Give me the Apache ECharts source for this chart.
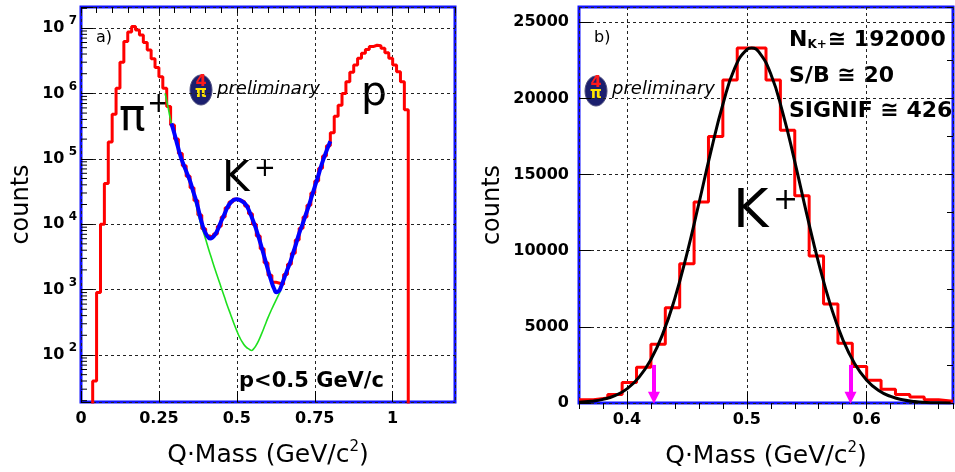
<!DOCTYPE html>
<html><head><meta charset="utf-8">
<script src="https://cdn.jsdelivr.net/npm/echarts@6/dist/echarts.min.js"></script>
<style>html,body{margin:0;padding:0;background:#fff}#c{width:955px;height:472px}</style>
</head><body><div id="c"></div>
<script>
// ---------- Panel a) : log-scale Q·Mass spectrum ----------
const aBinStart = 0.0375;
const aBinWidth = 0.0125;
const aCounts = [40, 900, 10000, 42000, 180000, 480000, 1200000, 3000000, 6200000, 8700000,
  10500000, 9300000, 7800000, 6000000, 4600000, 3400000, 2500000, 1800000, 1200000, 630000,
  330000, 200000, 120000, 78000, 54000, 36000, 23000, 13800, 8500, 6600,
  6300, 7100, 9300, 12900, 17800, 21900, 24000, 23400, 21900, 19000,
  14500, 10000, 6600, 4200, 2570, 1650, 1300, 1250, 1200, 1700,
  2450, 3600, 5750, 8700, 12900, 19500, 30000, 45700, 72000, 110000,
  158000, 250000, 446000, 660000, 1000000, 1510000, 2100000, 2730000, 3450000, 4100000,
  4700000, 5200000, 5450000, 5350000, 4900000, 4200000, 3450000, 2730000, 2150000, 1510000, 560000];
const aFitX = [0.29, 0.30, 0.31, 0.32, 0.33, 0.34, 0.35, 0.36, 0.37, 0.38, 0.39, 0.40, 0.41, 0.415, 0.42,
  0.43, 0.44, 0.45, 0.46, 0.47, 0.48, 0.49, 0.50, 0.51, 0.52, 0.53, 0.54, 0.55, 0.56, 0.57, 0.58, 0.59,
  0.60, 0.61, 0.62, 0.627, 0.635, 0.64, 0.65, 0.66, 0.67, 0.68, 0.69, 0.70, 0.71, 0.72, 0.73, 0.74,
  0.75, 0.76, 0.77, 0.78, 0.79, 0.80];
const aFitY = [347000, 240000, 158000, 107000, 79400, 60300, 45700, 31600, 22400, 14500, 9550, 7240, 6170, 6030, 6170,
  6920, 8510, 11200, 14100, 18200, 21400, 23400, 24000, 23400, 21900, 19500, 15800, 12000, 8910, 6310, 4370, 2950,
  2000, 1380, 1020, 912, 955, 1050, 1410, 1900, 2510, 3550, 5010, 7240, 9770, 13500, 18600, 26300,
  37200, 52500, 75900, 105000, 141000, 186000];
const aBgX = [0.27, 0.28, 0.29, 0.30, 0.31, 0.32, 0.33, 0.34, 0.35, 0.36, 0.37, 0.38, 0.39, 0.40, 0.41, 0.42,
  0.43, 0.44, 0.45, 0.46, 0.47, 0.48, 0.49, 0.50, 0.51, 0.52, 0.53, 0.54, 0.547, 0.555, 0.56, 0.57, 0.58,
  0.59, 0.60, 0.61, 0.62, 0.63, 0.64];
const aBgY = [1000000, 589000, 347000, 234000, 155000, 105000, 75900, 56200, 41700, 28200, 19100, 12000, 8320, 5890, 4070, 2880,
  2040, 1480, 1070, 776, 562, 417, 309, 234, 182, 151, 132, 122, 117, 126, 135, 166, 214,
  282, 372, 479, 603, 759, 955];
const aXTicks = [0, 0.25, 0.5, 0.75, 1];
const aYMin = 19.1, aYMax = 2.095e7;

// ---------- Panel b) : K+ peak, linear scale ----------
const bBinStart = 0.36;
const bBinWidth = 0.012;
const bCounts = [220, 330, 550, 1350, 2350, 3850, 6250, 9150, 13200, 17500, 21200, 23300, 23300,
  21200, 17900, 13600, 9650, 6500, 3920, 2400, 1500, 900, 550, 400, 210, 120];
const bFitX = [0.36, 0.37, 0.38, 0.39, 0.40, 0.41, 0.42, 0.43, 0.44, 0.45, 0.46, 0.47, 0.48, 0.49, 0.50, 0.504,
  0.51, 0.52, 0.53, 0.54, 0.55, 0.56, 0.57, 0.58, 0.59, 0.60, 0.61, 0.62, 0.63, 0.64, 0.65, 0.66, 0.67];
const bFitY = [50, 110, 240, 490, 930, 1680, 2860, 4570, 6890, 9790, 13100, 16500, 19600, 22000, 23200, 23300,
  23050, 21600, 19050, 15850, 12400, 9170, 6380, 4180, 2580, 1500, 820, 430, 210, 95, 40, 17, 7];
const bArrowX = [0.4225, 0.5865];
const bArrowTop = 2500;
const bArrowEnd = 350;
const bXTicks = [0.4, 0.5, 0.6];
const bYTicks = [0, 5000, 10000, 15000, 20000, 25000];

const FONT = 'DejaVu Sans';

// minor tick values of the log axis (2..9 x 10^n) inside the axis range
const aMinorTicks = [];
for (let e = 1; e <= 7; e++) for (let m = 2; m <= 9; m++) {
  const v = m * Math.pow(10, e);
  if (v > aYMin && v < aYMax) aMinorTicks.push(v);
}

function stepData(start, width, counts, floor) {
  const d = [];
  if (floor !== null) d.push([start, floor]);
  counts.forEach((c, i) => d.push([start + i * width, c]));
  const end = start + counts.length * width;
  d.push([end, counts[counts.length - 1]]);
  if (floor !== null) d.push([end, floor]);
  return d;
}
function pairs(xs, ys) { return xs.map((x, i) => [x, ys[i]]); }
const near = (v, arr) => arr.some(t => Math.abs(t - v) < 1e-6);

const dotted = { show: true, lineStyle: { color: '#222', width: 1, type: [3, 3] } };
const tickLbl = { fontFamily: FONT, fontWeight: 'bold', fontSize: 16, color: '#000' };
const titleRich = {
  a: { fontFamily: FONT, fontSize: 25, color: '#000' },
  s: { fontFamily: FONT, fontSize: 15, color: '#000', verticalAlign: 'top', lineHeight: 30 }
};

const chart = echarts.init(document.getElementById('c'), null, { renderer: 'canvas' });
chart.setOption({
  animation: false,
  backgroundColor: '#fff',
  grid: [
    { left: 81, top: 7, width: 374, height: 395, show: true, borderColor: '#1010ff', borderWidth: 3, backgroundColor: 'transparent', containLabel: false, outerBoundsMode: 'none' },
    { left: 579, top: 7, width: 374, height: 396, show: true, borderColor: '#1010ff', borderWidth: 3, backgroundColor: 'transparent', containLabel: false, outerBoundsMode: 'none' }
  ],
  xAxis: [
    { gridIndex: 0, type: 'value', min: 0, max: 1.2, interval: 0.25,
      axisLine: { show: false }, axisTick: { show: true, inside: true, length: 11, lineStyle: { color: '#000' } },
      axisLabel: Object.assign({ margin: 9, showMaxLabel: false, formatter: v => near(v, aXTicks) ? String(v) : '' }, tickLbl),
      splitLine: dotted,
      name: '{a|Q·Mass (GeV/c}{s|2}{a|)}', nameLocation: 'middle', nameGap: 38,
      nameTextStyle: { rich: titleRich } },
    { gridIndex: 0, type: 'value', min: 0, max: 1.2, interval: 0.05,
      axisLine: { show: false }, axisTick: { show: true, inside: true, length: 6, lineStyle: { color: '#000' } },
      axisLabel: { show: false }, splitLine: { show: false } },
    { gridIndex: 1, type: 'value', min: 0.36, max: 0.672, splitNumber: 3,
      axisLine: { show: false }, axisTick: { show: true, inside: true, length: 11, lineStyle: { color: '#000' } },
      axisLabel: Object.assign({ margin: 9, showMinLabel: false, showMaxLabel: false, formatter: v => near(v, bXTicks) ? v.toFixed(1) : '' }, tickLbl),
      splitLine: dotted,
      name: '{a|Q·Mass (GeV/c}{s|2}{a|)}', nameLocation: 'middle', nameGap: 38,
      nameTextStyle: { rich: titleRich } },
    { gridIndex: 1, type: 'value', min: 0.36, max: 0.672, interval: 0.02,
      axisLine: { show: false }, axisTick: { show: true, inside: true, length: 6, lineStyle: { color: '#000' } },
      axisLabel: { show: false }, splitLine: { show: false } }
  ],
  yAxis: [
    { gridIndex: 0, type: 'log', logBase: 10, min: aYMin, max: aYMax,
      axisLine: { show: false }, axisTick: { show: true, inside: true, length: 12, lineStyle: { color: '#000' } },
      minorTick: { show: false },
      axisLabel: { margin: 4, formatter: v => {
          const l = Math.log10(v), e = Math.round(l);
          return Math.abs(l - e) < 1e-6 ? '{b|10}{s| ' + e + '}' : '';
        },
        rich: { b: { fontFamily: FONT, fontWeight: 'bold', fontSize: 16, color: '#000' },
                s: { fontFamily: FONT, fontWeight: 'bold', fontSize: 12, color: '#000', verticalAlign: 'top', lineHeight: 26 } } },
      splitLine: dotted,
      name: 'counts', nameLocation: 'middle', nameGap: 47, nameRotate: 90,
      nameTextStyle: { fontFamily: FONT, fontSize: 24, color: '#000' } },
    { gridIndex: 1, type: 'value', min: 0, max: 26000, interval: 5000,
      axisLine: { show: false }, axisTick: { show: true, inside: true, length: 12, lineStyle: { color: '#000' } },
      axisLabel: Object.assign({ margin: 10, showMaxLabel: false, formatter: v => near(v, bYTicks) ? String(v) : '' }, tickLbl),
      splitLine: dotted,
      name: 'counts', nameLocation: 'middle', nameGap: 74, nameRotate: 90,
      nameTextStyle: { fontFamily: FONT, fontSize: 24, color: '#000' } },
    { gridIndex: 1, type: 'value', min: 0, max: 26000, interval: 2500,
      axisLine: { show: false }, axisTick: { show: true, inside: true, length: 6, lineStyle: { color: '#000' } },
      axisLabel: { show: false }, splitLine: { show: false } }
  ],
  series: [
    { type: 'custom', xAxisIndex: 0, yAxisIndex: 0, silent: true, z: 1,
      data: aMinorTicks.map(v => [0, v]),
      renderItem: (params, api) => {
        const p = api.coord([0, api.value(1)]);
        return { type: 'line', shape: { x1: p[0], y1: p[1], x2: p[0] + 6, y2: p[1] },
                 style: { stroke: '#000', lineWidth: 1 } };
      } },
    { type: 'line', xAxisIndex: 0, yAxisIndex: 0, step: 'end', symbol: 'none', z: 2,
      data: stepData(aBinStart, aBinWidth, aCounts, 1),
      lineStyle: { color: '#ff0000', width: 3 } },
    { type: 'line', xAxisIndex: 0, yAxisIndex: 0, smooth: true, symbol: 'none', z: 3,
      data: pairs(aBgX, aBgY), lineStyle: { color: '#1ee01e', width: 1.6 } },
    { type: 'line', xAxisIndex: 0, yAxisIndex: 0, smooth: true, symbol: 'none', z: 4,
      data: pairs(aFitX, aFitY), lineStyle: { color: '#0000ff', width: 4 } },
    { type: 'line', xAxisIndex: 2, yAxisIndex: 1, step: 'end', symbol: 'none', z: 2,
      data: stepData(bBinStart, bBinWidth, bCounts, null),
      lineStyle: { color: '#ff0000', width: 3 } },
    { type: 'line', xAxisIndex: 2, yAxisIndex: 1, smooth: true, symbol: 'none', z: 4,
      data: pairs(bFitX, bFitY), lineStyle: { color: '#000', width: 3 },
      markLine: { silent: true, symbol: ['none', 'triangle'], symbolSize: 12, animation: false,
        label: { show: false },
        lineStyle: { color: '#ff00ff', width: 4, type: 'solid', opacity: 1 },
        itemStyle: { color: '#ff00ff' },
        data: bArrowX.map(x => [{ coord: [x, bArrowTop] }, { coord: [x, bArrowEnd] }]) } }
  ],
  graphic: [
    { type: 'text', x: 96, y: 30, style: { text: 'a)', font: '16px "DejaVu Sans"', fill: '#000' } },
    { type: 'text', x: 119, y: 97, style: { text: 'π', font: '44px "DejaVu Sans"', fill: '#000' } },
    { type: 'text', x: 147, y: 91, style: { text: '+', font: '28px "DejaVu Sans"', fill: '#000' } },
    { type: 'text', x: 222, y: 159, style: { text: 'K', font: '42px "DejaVu Sans"', fill: '#000' } },
    { type: 'text', x: 254, y: 156, style: { text: '+', font: '26px "DejaVu Sans"', fill: '#000' } },
    { type: 'text', x: 361, y: 74, style: { text: 'p', font: '41px "DejaVu Sans"', fill: '#000' } },
    { type: 'ellipse', shape: { cx: 201, cy: 90, rx: 11, ry: 15 }, style: { fill: '#1b1f6e', stroke: '#505080', lineWidth: 1 } },
    { type: 'text', x: 201, y: 90, style: { text: '4', font: 'bold 16px "DejaVu Sans"', fill: '#ff1a1a', align: 'center', verticalAlign: 'bottom' } },
    { type: 'text', x: 201, y: 86, style: { text: 'π', font: 'bold 15px "DejaVu Sans"', fill: '#ffe600', align: 'center', verticalAlign: 'top' } },
    { type: 'text', x: 217, y: 80, style: { text: 'preliminary', font: 'italic 18px "DejaVu Sans"', fill: '#000' } },
    { type: 'text', x: 239, y: 371, style: { text: 'p<0.5 GeV/c', font: 'bold 21px "DejaVu Sans"', fill: '#000' } },

    { type: 'text', x: 594, y: 30, style: { text: 'b)', font: '16px "DejaVu Sans"', fill: '#000' } },
    { type: 'ellipse', shape: { cx: 596, cy: 91, rx: 11, ry: 15 }, style: { fill: '#1b1f6e', stroke: '#505080', lineWidth: 1 } },
    { type: 'text', x: 596, y: 91, style: { text: '4', font: 'bold 16px "DejaVu Sans"', fill: '#ff1a1a', align: 'center', verticalAlign: 'bottom' } },
    { type: 'text', x: 596, y: 87, style: { text: 'π', font: 'bold 15px "DejaVu Sans"', fill: '#ffe600', align: 'center', verticalAlign: 'top' } },
    { type: 'text', x: 612, y: 80, style: { text: 'preliminary', font: 'italic 18px "DejaVu Sans"', fill: '#000' } },
    { type: 'text', x: 789, y: 29, style: { text: '{n|N}{sub|K+}{n|≅ 192000}',
        rich: { n: { font: 'bold 22px "DejaVu Sans"', fill: '#000', verticalAlign: 'bottom' },
                sub: { font: 'bold 12px "DejaVu Sans"', fill: '#000', verticalAlign: 'bottom', padding: [0, 1, 0, 0] } } } },
    { type: 'text', x: 789, y: 65, style: { text: 'S/B ≅ 20', font: 'bold 22px "DejaVu Sans"', fill: '#000' } },
    { type: 'text', x: 789, y: 100, style: { text: 'SIGNIF ≅ 426', font: 'bold 22px "DejaVu Sans"', fill: '#000' } },
    { type: 'text', x: 733, y: 186, style: { text: 'K', font: '54px "DejaVu Sans"', fill: '#000' } },
    { type: 'text', x: 773, y: 186, style: { text: '+', font: '30px "DejaVu Sans"', fill: '#000' } }
  ]
});
</script>
</body></html>
